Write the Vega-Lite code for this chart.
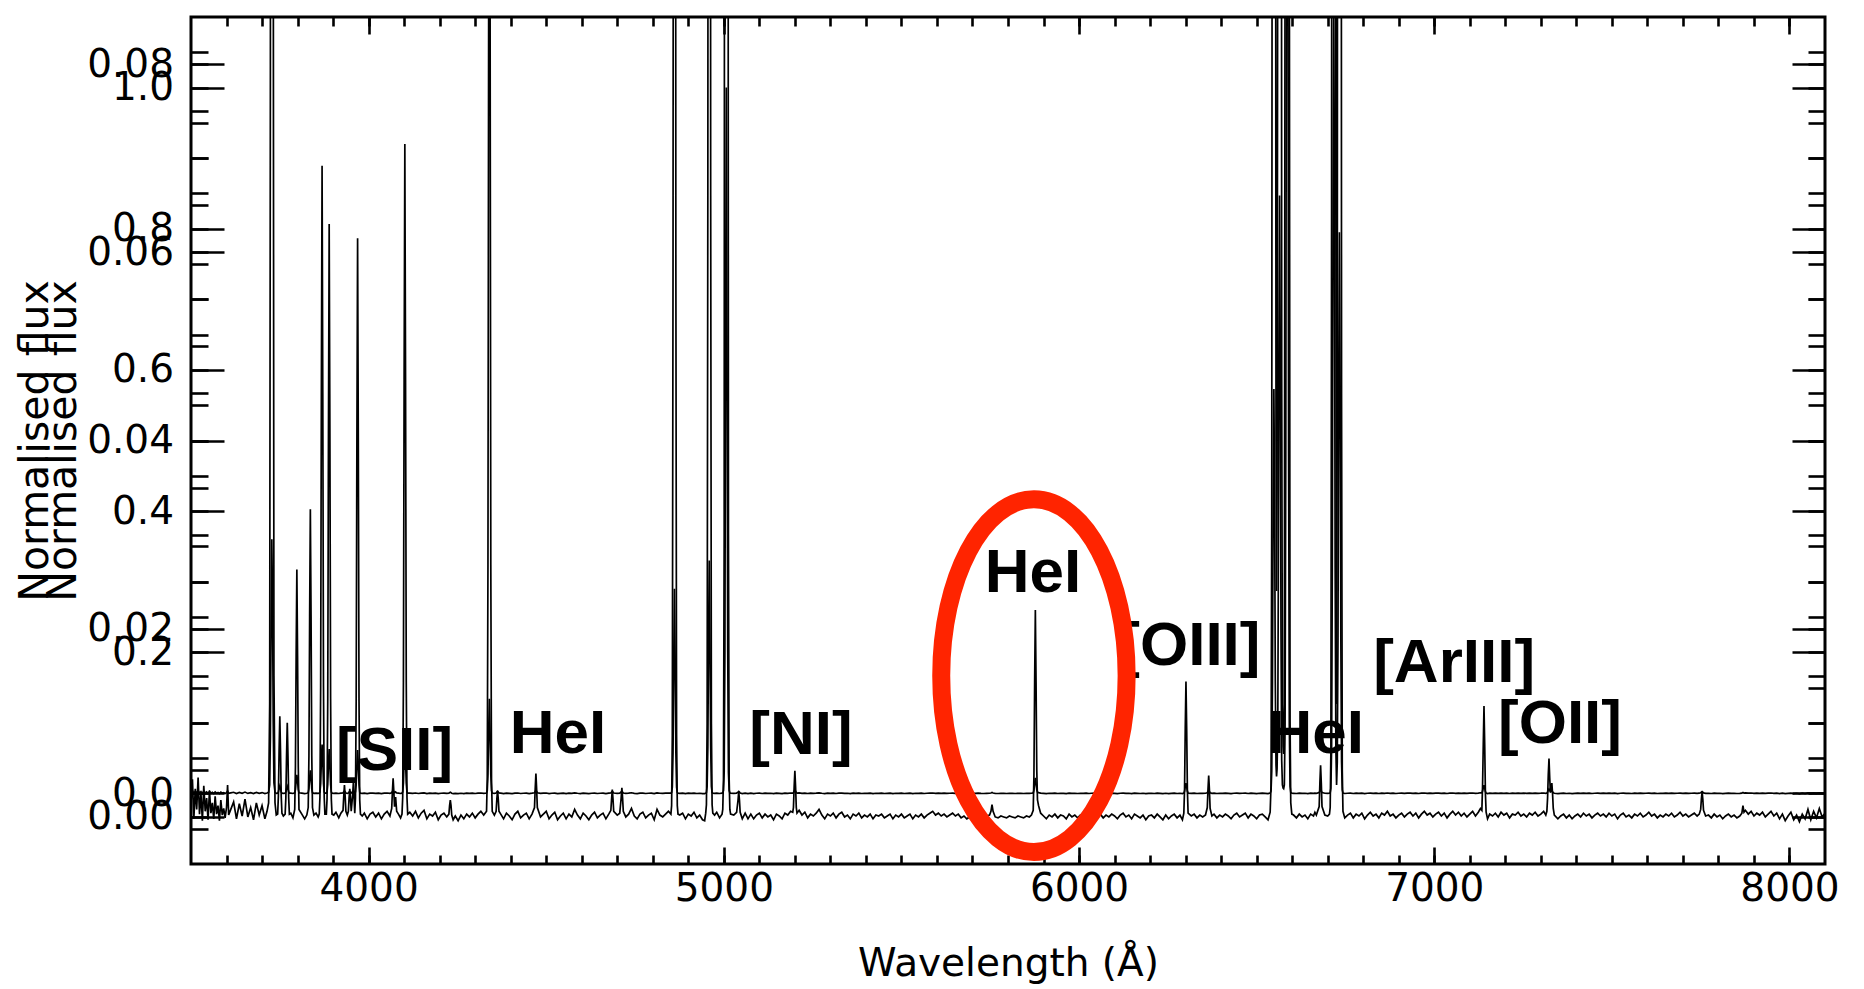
{
"$schema":"https://vega.github.io/schema/vega-lite/v6.json",
"width":1634,"height":847,
"autosize":{"type":"none"},
"padding":{"left":191,"top":17,"right":39,"bottom":125},
"background":"white",
"config":{
 "view":{"stroke":"black","strokeWidth":3},
 "axis":{"labelFont":"DejaVu Sans","labelFontSize":39,"titleFont":"DejaVu Sans","titleFontSize":39,"titleFontWeight":"normal","labelColor":"#000","titleColor":"#000","tickColor":"#000","tickWidth":2.6,"domain":false,"grid":false,"labelOverlap":false,"labelFlush":false}
},
"datasets":{
"spec":[
{"w":3500,"f":0.0015},{"w":3504,"f":0.0040},{"w":3508,"f":-0.0002},{"w":3512,"f":0.0030},{"w":3516,"f":0.0008},{"w":3520,"f":0.0042},{"w":3524,"f":0.0003},{"w":3528,"f":0.0025},{"w":3532,"f":-0.0004},{"w":3536,"f":0.0033},{"w":3540,"f":0.0006},{"w":3544,"f":0.0020},{"w":3548,"f":-0.0003},{"w":3552,"f":0.0028},{"w":3556,"f":0.0004},{"w":3560,"f":0.0015},{"w":3564,"f":-0.0002},{"w":3568,"f":0.0022},{"w":3572,"f":0.0003},{"w":3576,"f":0.0012},{"w":3580,"f":-0.0004},{"w":3584,"f":0.0018},{"w":3588,"f":0.0002},{"w":3592,"f":0.0009},{"w":3596,"f":-0.0001},{"w":3600,"f":0.0010},{"w":3603,"f":0.0034},{"w":3606,"f":0.0002},
{"w":3612,"f":0.0008},{"w":3620,"f":0.0016},{"w":3628,"f":-0.0002},{"w":3636,"f":0.0014},{"w":3644,"f":0.0001},{"w":3652,"f":0.0019},{"w":3660,"f":0.0000},{"w":3668,"f":0.0010},{"w":3676,"f":-0.0003},{"w":3684,"f":0.0015},{"w":3692,"f":0.0002},{"w":3700,"f":0.0012},{"w":3708,"f":-0.0002},{"w":3714,"f":0.0006},
{"w":3718.5,"f":0.0015},{"w":3721.5,"f":0.012},{"w":3723.5,"f":0.08},{"w":3725.5,"f":0.24},{"w":3727.5,"f":0.36},{"w":3729.5,"f":0.27},{"w":3731.5,"f":0.10},{"w":3733.5,"f":0.015},{"w":3736.5,"f":0.0015},{"w":3740,"f":0.0002},
{"w":3744,"f":0.0003},{"w":3746,"f":0.0022},{"w":3748,"f":0.0070},{"w":3750,"f":0.0107},{"w":3752,"f":0.0070},{"w":3754,"f":0.0022},{"w":3756,"f":0.0004},{"w":3760,"f":0.0001},
{"w":3765,"f":0.0003},{"w":3767,"f":0.0020},{"w":3769,"f":0.0065},{"w":3771,"f":0.0100},{"w":3773,"f":0.0065},{"w":3775,"f":0.0020},{"w":3777,"f":0.0003},{"w":3781,"f":0.0004},{"w":3787,"f":-0.0001},
{"w":3792,"f":0.0008},{"w":3794,"f":0.0053},{"w":3796,"f":0.0171},{"w":3798,"f":0.0263},{"w":3800,"f":0.0171},{"w":3802,"f":0.0053},{"w":3804,"f":0.0008},{"w":3812,"f":0.0003},{"w":3820,"f":-0.0002},
{"w":3826,"f":0.0002},{"w":3830,"f":0.0010},{"w":3832,"f":0.0065},{"w":3834,"f":0.0213},{"w":3836,"f":0.0327},{"w":3838,"f":0.0213},{"w":3840,"f":0.0065},{"w":3842,"f":0.0010},{"w":3846,"f":0.0002},{"w":3852,"f":0.0004},{"w":3858,"f":0.0000},
{"w":3861,"f":0.0003},{"w":3863,"f":0.0021},{"w":3865,"f":0.0138},{"w":3867,"f":0.0450},{"w":3869,"f":0.0692},{"w":3871,"f":0.0450},{"w":3873,"f":0.0138},{"w":3875,"f":0.0021},{"w":3877,"f":0.0003},
{"w":3881,"f":0.0003},{"w":3883,"f":0.0019},{"w":3885,"f":0.0126},{"w":3887,"f":0.0410},{"w":3889,"f":0.0630},{"w":3891,"f":0.0410},{"w":3893,"f":0.0126},{"w":3895,"f":0.0019},{"w":3897,"f":0.0003},
{"w":3902,"f":0.0002},{"w":3908,"f":0.0005},{"w":3916,"f":-0.0001},{"w":3922,"f":0.0004},{"w":3928,"f":0.0007},{"w":3930,"f":0.0022},{"w":3932,"f":0.0034},{"w":3934,"f":0.0022},{"w":3936,"f":0.0006},{"w":3940,"f":0.0002},{"w":3943,"f":0.0006},{"w":3945,"f":0.0020},{"w":3947,"f":0.0030},{"w":3949,"f":0.0020},{"w":3951,"f":0.0006},{"w":3955,"f":0.0023},{"w":3957,"f":0.0036},{"w":3959,"f":0.0021},{"w":3961,"f":0.0004},
{"w":3963,"f":0.0020},{"w":3965,"f":0.0123},{"w":3967,"f":0.0400},{"w":3969,"f":0.0615},{"w":3971,"f":0.0400},{"w":3973,"f":0.0123},{"w":3975,"f":0.0018},{"w":3977,"f":0.0003},
{"w":3982,"f":0.0001},{"w":3988,"f":0.0004},{"w":3996,"f":-0.0002},{"w":4004,"f":0.0003},{"w":4012,"f":0.0005},{"w":4020,"f":0.0000},{"w":4028,"f":0.0004},{"w":4036,"f":-0.0002},{"w":4044,"f":0.0003},{"w":4052,"f":0.0006},{"w":4060,"f":0.0001},
{"w":4065,"f":0.0009},{"w":4067,"f":0.0027},{"w":4069,"f":0.0041},{"w":4071,"f":0.0027},{"w":4073,"f":0.0011},{"w":4076,"f":0.0021},{"w":4079,"f":0.0006},{"w":4084,"f":0.0003},{"w":4090,"f":-0.0001},
{"w":4094,"f":0.0003},{"w":4096,"f":0.0021},{"w":4098,"f":0.0143},{"w":4100,"f":0.0465},{"w":4102,"f":0.0715},{"w":4104,"f":0.0465},{"w":4106,"f":0.0143},{"w":4108,"f":0.0021},{"w":4110,"f":0.0003},
{"w":4116,"f":0.0005},{"w":4124,"f":0.0001},{"w":4132,"f":0.0006},{"w":4140,"f":-0.0001},{"w":4148,"f":0.0004},{"w":4156,"f":0.0007},{"w":4164,"f":-0.0002},{"w":4172,"f":0.0003},{"w":4180,"f":0.0001},{"w":4188,"f":0.0005},{"w":4196,"f":-0.0003},{"w":4204,"f":0.0002},{"w":4212,"f":0.0004},{"w":4220,"f":0.0000},
{"w":4226,"f":0.0003},{"w":4228,"f":0.0012},{"w":4230,"f":0.0018},{"w":4232,"f":0.0012},{"w":4234,"f":0.0002},{"w":4238,"f":-0.0003},{"w":4244,"f":0.0001},{"w":4252,"f":-0.0004},{"w":4260,"f":0.0002},{"w":4268,"f":-0.0002},{"w":4276,"f":0.0003},{"w":4284,"f":0.0000},{"w":4292,"f":0.0004},{"w":4300,"f":-0.0001},{"w":4308,"f":0.0003},{"w":4316,"f":0.0006},{"w":4324,"f":0.0002},
{"w":4332,"f":0.0006},{"w":4334,"f":0.0040},{"w":4336,"f":0.0268},{"w":4338,"f":0.0871},{"w":4340,"f":0.1340},{"w":4342,"f":0.0871},{"w":4344,"f":0.0268},{"w":4346,"f":0.0040},{"w":4348,"f":0.0006},{"w":4354,"f":0.0002},
{"w":4359,"f":0.0006},{"w":4361,"f":0.0019},{"w":4363,"f":0.0028},{"w":4365,"f":0.0019},{"w":4367,"f":0.0006},{"w":4372,"f":0.0003},{"w":4380,"f":-0.0002},{"w":4388,"f":0.0004},{"w":4396,"f":0.0001},{"w":4404,"f":-0.0003},{"w":4412,"f":0.0003},{"w":4420,"f":0.0006},{"w":4428,"f":-0.0001},{"w":4436,"f":0.0002},{"w":4444,"f":0.0004},{"w":4452,"f":-0.0002},{"w":4460,"f":0.0003},
{"w":4467,"f":0.0010},{"w":4469,"f":0.0030},{"w":4471,"f":0.0046},{"w":4473,"f":0.0030},{"w":4475,"f":0.0010},{"w":4484,"f":0.0000},{"w":4492,"f":0.0003},{"w":4500,"f":0.0006},{"w":4508,"f":-0.0002},{"w":4516,"f":0.0002},{"w":4524,"f":0.0005},{"w":4532,"f":-0.0003},{"w":4540,"f":0.0001},{"w":4548,"f":0.0004},{"w":4556,"f":-0.0002},{"w":4564,"f":0.0003},{"w":4572,"f":0.0000},{"w":4580,"f":0.0008},{"w":4588,"f":0.0002},{"w":4596,"f":-0.0002},{"w":4604,"f":0.0004},{"w":4612,"f":0.0001},{"w":4620,"f":-0.0003},{"w":4628,"f":0.0002},{"w":4636,"f":0.0005},{"w":4644,"f":-0.0001},{"w":4652,"f":0.0002},{"w":4660,"f":0.0004},{"w":4668,"f":-0.0002},{"w":4676,"f":0.0003},
{"w":4682,"f":0.0007},{"w":4684,"f":0.0019},{"w":4686,"f":0.0029},{"w":4688,"f":0.0019},{"w":4690,"f":0.0006},{"w":4700,"f":0.0002},{"w":4707,"f":0.0004},{"w":4711,"f":0.0020},{"w":4713,"f":0.0031},{"w":4715,"f":0.0020},{"w":4717,"f":0.0006},
{"w":4724,"f":0.0000},{"w":4732,"f":0.0003},{"w":4740,"f":0.0009},{"w":4748,"f":0.0001},{"w":4756,"f":-0.0002},{"w":4764,"f":0.0003},{"w":4772,"f":0.0005},{"w":4780,"f":-0.0001},{"w":4788,"f":0.0002},{"w":4796,"f":0.0004},{"w":4804,"f":-0.0003},{"w":4812,"f":0.0008},{"w":4820,"f":0.0002},{"w":4828,"f":0.0000},{"w":4836,"f":0.0003},{"w":4844,"f":0.0006},
{"w":4851,"f":0.0003},{"w":4853,"f":0.0012},{"w":4855,"f":0.0087},{"w":4857,"f":0.058},{"w":4859,"f":0.1885},{"w":4861,"f":0.29},{"w":4863,"f":0.1885},{"w":4865,"f":0.058},{"w":4867,"f":0.0087},{"w":4869,"f":0.0012},{"w":4871,"f":0.0003},
{"w":4876,"f":0.0002},{"w":4884,"f":0.0004},{"w":4892,"f":-0.0002},{"w":4900,"f":0.0003},{"w":4908,"f":0.0001},{"w":4916,"f":0.0005},{"w":4924,"f":-0.0001},{"w":4932,"f":0.0002},{"w":4940,"f":-0.0003},{"w":4946,"f":-0.0004},
{"w":4949,"f":0.0004},{"w":4951,"f":0.0013},{"w":4953,"f":0.0099},{"w":4955,"f":0.066},{"w":4957,"f":0.2145},{"w":4959,"f":0.33},{"w":4961,"f":0.2145},{"w":4963,"f":0.066},{"w":4965,"f":0.0099},{"w":4967,"f":0.0013},{"w":4969,"f":0.0004},
{"w":4974,"f":0.0002},{"w":4980,"f":0.0005},{"w":4988,"f":-0.0001},
{"w":4995,"f":0.0003},{"w":4997,"f":0.0008},{"w":4999,"f":0.004},{"w":5001,"f":0.03},{"w":5003,"f":0.2},{"w":5005,"f":0.65},{"w":5007,"f":1.0},{"w":5009,"f":0.65},{"w":5011,"f":0.2},{"w":5013,"f":0.03},{"w":5015,"f":0.004},{"w":5017,"f":0.0008},{"w":5019,"f":0.0003},
{"w":5028,"f":0.0002},{"w":5036,"f":0.0005},{"w":5040,"f":0.0018},{"w":5042,"f":0.0027},{"w":5044,"f":0.0018},{"w":5046,"f":0.0005},{"w":5052,"f":-0.0002},{"w":5060,"f":0.0004},{"w":5068,"f":-0.0002},{"w":5076,"f":0.0003},{"w":5084,"f":-0.0002},{"w":5092,"f":0.0002},{"w":5100,"f":0.0004},{"w":5108,"f":-0.0001},{"w":5116,"f":0.0003},{"w":5124,"f":0.0000},{"w":5132,"f":0.0002},{"w":5140,"f":-0.0003},{"w":5148,"f":0.0003},{"w":5156,"f":0.0001},{"w":5164,"f":-0.0002},{"w":5172,"f":0.0004},{"w":5180,"f":0.0002},{"w":5188,"f":0.0006},
{"w":5194,"f":0.0005},{"w":5196,"f":0.0010},{"w":5198,"f":0.0032},{"w":5200,"f":0.0049},{"w":5202,"f":0.0032},{"w":5204,"f":0.0010},{"w":5206,"f":0.0004},
{"w":5212,"f":0.0007},{"w":5220,"f":0.0002},{"w":5228,"f":0.0005},{"w":5236,"f":-0.0001},{"w":5244,"f":0.0003},{"w":5252,"f":0.0001},{"w":5260,"f":0.0004},{"w":5268,"f":0.0008},{"w":5276,"f":0.0002},{"w":5284,"f":-0.0002},{"w":5292,"f":0.0003},{"w":5300,"f":0.0001},{"w":5308,"f":0.0004},{"w":5316,"f":-0.0001},{"w":5324,"f":0.0003},{"w":5332,"f":0.0005},{"w":5340,"f":0.0000},{"w":5348,"f":0.0002},{"w":5356,"f":-0.0002},{"w":5364,"f":0.0003},{"w":5372,"f":0.0001},{"w":5380,"f":0.0004},{"w":5388,"f":-0.0001},{"w":5396,"f":0.0002},{"w":5404,"f":0.0000},{"w":5412,"f":0.0003},{"w":5420,"f":-0.0002},{"w":5428,"f":0.0002},{"w":5436,"f":0.0001},{"w":5444,"f":0.0003},{"w":5452,"f":-0.0001},{"w":5460,"f":0.0001},{"w":5468,"f":0.0003},{"w":5476,"f":-0.0002},{"w":5484,"f":0.0002},{"w":5492,"f":0.0000},{"w":5500,"f":0.0003},{"w":5508,"f":-0.0001},{"w":5516,"f":0.0001},{"w":5524,"f":0.0003},{"w":5532,"f":-0.0002},{"w":5540,"f":0.0002},{"w":5548,"f":0.0000},{"w":5556,"f":0.0003},{"w":5564,"f":-0.0001},{"w":5572,"f":0.0002},{"w":5580,"f":0.0004},{"w":5588,"f":0.0006},{"w":5596,"f":0.0002},{"w":5604,"f":0.0004},{"w":5612,"f":0.0001},{"w":5620,"f":0.0003},{"w":5628,"f":0.0000},{"w":5636,"f":0.0002},{"w":5644,"f":0.0004},{"w":5652,"f":0.0001},{"w":5660,"f":0.0003},{"w":5668,"f":-0.0001},{"w":5676,"f":0.0001},{"w":5684,"f":-0.0002},{"w":5692,"f":0.0000},{"w":5700,"f":0.0002},{"w":5708,"f":0.0001},{"w":5716,"f":0.0003},{"w":5724,"f":0.0000},{"w":5732,"f":-0.0001},{"w":5740,"f":0.0001},{"w":5748,"f":0.0002},
{"w":5752,"f":0.0006},{"w":5755,"f":0.0013},{"w":5758,"f":0.0006},{"w":5764,"f":0.0000},{"w":5772,"f":-0.0001},{"w":5780,"f":0.0001},{"w":5788,"f":0.0000},{"w":5796,"f":-0.0001},{"w":5804,"f":0.0001},{"w":5812,"f":0.0000},{"w":5820,"f":-0.0001},{"w":5828,"f":0.0001},{"w":5836,"f":0.0000},{"w":5844,"f":-0.0001},{"w":5852,"f":0.0001},{"w":5860,"f":0.0000},{"w":5866,"f":0.0002},
{"w":5871,"f":0.0007},{"w":5873,"f":0.0044},{"w":5875,"f":0.0143},{"w":5877,"f":0.0220},{"w":5879,"f":0.0143},{"w":5881,"f":0.0050},{"w":5883,"f":0.0018},{"w":5886,"f":0.0012},{"w":5889,"f":0.0008},{"w":5892,"f":0.0004},
{"w":5900,"f":0.0001},{"w":5908,"f":-0.0002},{"w":5916,"f":0.0002},{"w":5924,"f":0.0000},{"w":5932,"f":0.0003},{"w":5940,"f":-0.0001},{"w":5948,"f":0.0002},{"w":5956,"f":0.0001},{"w":5964,"f":-0.0002},{"w":5972,"f":0.0003},{"w":5980,"f":0.0000},{"w":5988,"f":0.0002},{"w":5996,"f":-0.0001},{"w":6004,"f":0.0002},{"w":6012,"f":0.0001},{"w":6020,"f":0.0003},{"w":6028,"f":-0.0001},{"w":6036,"f":0.0002},{"w":6044,"f":0.0004},{"w":6052,"f":0.0001},{"w":6060,"f":0.0003},{"w":6068,"f":-0.0001},{"w":6076,"f":0.0002},{"w":6084,"f":0.0000},{"w":6092,"f":0.0003},{"w":6100,"f":0.0001},{"w":6108,"f":-0.0002},{"w":6116,"f":0.0002},{"w":6124,"f":0.0004},{"w":6132,"f":0.0000},{"w":6140,"f":0.0002},{"w":6148,"f":-0.0002},{"w":6156,"f":0.0003},{"w":6164,"f":0.0001},{"w":6172,"f":-0.0001},{"w":6180,"f":0.0002},{"w":6188,"f":-0.0003},{"w":6196,"f":0.0001},{"w":6204,"f":0.0002},{"w":6212,"f":-0.0001},{"w":6220,"f":0.0003},{"w":6228,"f":0.0000},{"w":6236,"f":-0.0003},{"w":6244,"f":0.0002},{"w":6252,"f":-0.0002},{"w":6260,"f":0.0001},{"w":6268,"f":0.0003},{"w":6276,"f":-0.0001},{"w":6284,"f":0.0002},{"w":6291,"f":-0.0003},
{"w":6295,"f":0.0004},{"w":6297,"f":0.0029},{"w":6299,"f":0.0094},{"w":6301,"f":0.0144},{"w":6303,"f":0.0094},{"w":6305,"f":0.0029},{"w":6307,"f":0.0004},
{"w":6316,"f":0.0001},{"w":6324,"f":0.0003},{"w":6332,"f":-0.0001},{"w":6340,"f":0.0002},{"w":6348,"f":0.0000},{"w":6356,"f":0.0002},
{"w":6361,"f":0.0010},{"w":6363,"f":0.0029},{"w":6365,"f":0.0044},{"w":6367,"f":0.0029},{"w":6369,"f":0.0009},
{"w":6374,"f":0.0001},{"w":6380,"f":0.0003},{"w":6388,"f":-0.0001},{"w":6396,"f":0.0002},{"w":6404,"f":0.0000},{"w":6412,"f":0.0003},{"w":6420,"f":0.0001},{"w":6428,"f":-0.0002},{"w":6436,"f":0.0002},{"w":6444,"f":0.0004},{"w":6452,"f":0.0000},{"w":6460,"f":0.0002},{"w":6468,"f":0.0004},{"w":6476,"f":-0.0001},{"w":6484,"f":0.0003},{"w":6492,"f":0.0001},{"w":6500,"f":-0.0002},{"w":6508,"f":0.0002},{"w":6516,"f":0.0003},{"w":6524,"f":0.0000},{"w":6532,"f":-0.0003},
{"w":6538,"f":0.0005},{"w":6540.5,"f":0.0034},{"w":6542.5,"f":0.032},{"w":6544.5,"f":0.159},{"w":6546.5,"f":0.416},{"w":6548.5,"f":0.573},{"w":6550.5,"f":0.416},{"w":6552.5,"f":0.159},{"w":6554.5,"f":0.04},{"w":6556,"f":0.024},{"w":6557.5,"f":0.035},{"w":6559.5,"f":0.10},{"w":6561,"f":0.30},{"w":6562.5,"f":0.615},{"w":6564.5,"f":0.847},{"w":6566.5,"f":0.615},{"w":6568.5,"f":0.235},{"w":6570.5,"f":0.047},{"w":6572.5,"f":0.012},{"w":6574.5,"f":0.0075},{"w":6576,"f":0.0067},{"w":6578,"f":0.012},{"w":6580,"f":0.096},{"w":6582,"f":0.478},{"w":6584,"f":1.249},{"w":6586,"f":1.72},{"w":6588,"f":1.249},{"w":6590,"f":0.478},{"w":6592,"f":0.096},{"w":6594,"f":0.0103},{"w":6596,"f":0.0015},{"w":6599,"f":0.0003},
{"w":6604,"f":0.0002},{"w":6612,"f":-0.0001},{"w":6620,"f":0.0003},{"w":6628,"f":0.0000},{"w":6636,"f":0.0002},{"w":6644,"f":-0.0002},{"w":6652,"f":0.0003},{"w":6660,"f":0.0001},{"w":6664,"f":0.0005},{"w":6668,"f":0.0002},
{"w":6676,"f":0.0011},{"w":6678,"f":0.0036},{"w":6680,"f":0.0055},{"w":6682,"f":0.0036},{"w":6684,"f":0.0011},{"w":6692,"f":0.0002},{"w":6700,"f":0.0001},
{"w":6705,"f":0.0003},{"w":6707,"f":0.001},{"w":6709,"f":0.007},{"w":6711,"f":0.064},{"w":6713,"f":0.32},{"w":6715,"f":0.835},{"w":6717,"f":1.15},{"w":6719,"f":0.835},{"w":6721,"f":0.32},{"w":6723,"f":0.064},{"w":6725,"f":0.012},{"w":6727,"f":0.045},{"w":6729,"f":0.221},{"w":6731,"f":0.577},{"w":6733,"f":0.795},{"w":6735,"f":0.577},{"w":6737,"f":0.221},{"w":6739,"f":0.045},{"w":6741,"f":0.005},{"w":6743,"f":0.0006},
{"w":6748,"f":-0.0001},{"w":6756,"f":0.0002},{"w":6764,"f":0.0004},{"w":6772,"f":-0.0001},{"w":6780,"f":0.0003},{"w":6788,"f":0.0001},{"w":6796,"f":0.0004},{"w":6804,"f":-0.0002},{"w":6812,"f":0.0002},{"w":6820,"f":0.0005},{"w":6828,"f":0.0001},{"w":6836,"f":0.0003},{"w":6844,"f":-0.0001},{"w":6852,"f":0.0004},{"w":6860,"f":0.0002},{"w":6868,"f":0.0006},{"w":6876,"f":0.0001},{"w":6884,"f":0.0003},{"w":6892,"f":-0.0001},{"w":6900,"f":0.0002},{"w":6908,"f":0.0004},{"w":6916,"f":0.0000},{"w":6924,"f":0.0003},{"w":6932,"f":0.0005},{"w":6940,"f":0.0001},{"w":6948,"f":0.0004},{"w":6956,"f":-0.0001},{"w":6964,"f":0.0003},{"w":6972,"f":0.0006},{"w":6980,"f":0.0002},{"w":6988,"f":0.0004},{"w":6996,"f":0.0000},{"w":7004,"f":0.0003},{"w":7012,"f":0.0005},{"w":7020,"f":0.0001},{"w":7028,"f":0.0004},{"w":7036,"f":-0.0001},{"w":7044,"f":0.0003},{"w":7052,"f":0.0006},{"w":7060,"f":0.0002},{"w":7068,"f":0.0005},{"w":7076,"f":0.0001},{"w":7084,"f":0.0004},{"w":7092,"f":0.0000},{"w":7100,"f":0.0003},{"w":7108,"f":0.0006},{"w":7116,"f":0.0001},{"w":7124,"f":0.0005},{"w":7130,"f":0.0009},
{"w":7134,"f":0.0007},{"w":7136,"f":0.0033},{"w":7138,"f":0.0077},{"w":7140,"f":0.0118},{"w":7142,"f":0.0077},{"w":7144,"f":0.0025},{"w":7146,"f":0.0005},
{"w":7150,"f":-0.0002},{"w":7156,"f":0.0003},{"w":7164,"f":0.0001},{"w":7172,"f":0.0004},{"w":7180,"f":0.0000},{"w":7188,"f":0.0005},{"w":7196,"f":0.0002},{"w":7204,"f":0.0004},{"w":7212,"f":-0.0001},{"w":7220,"f":0.0003},{"w":7228,"f":0.0002},{"w":7236,"f":0.0005},{"w":7244,"f":0.0001},{"w":7252,"f":0.0003},{"w":7260,"f":0.0000},{"w":7268,"f":0.0004},{"w":7276,"f":0.0002},{"w":7284,"f":0.0005},{"w":7292,"f":0.0001},{"w":7300,"f":0.0003},{"w":7308,"f":0.0006},{"w":7314,"f":0.0002},
{"w":7317,"f":0.0006},{"w":7319,"f":0.0020},{"w":7321,"f":0.0045},{"w":7323,"f":0.0062},{"w":7325,"f":0.0042},{"w":7327,"f":0.0026},{"w":7329,"f":0.0030},{"w":7331,"f":0.0036},{"w":7333,"f":0.0025},{"w":7335,"f":0.0009},{"w":7338,"f":0.0002},
{"w":7348,"f":-0.0002},{"w":7356,"f":0.0001},{"w":7364,"f":0.0003},{"w":7372,"f":-0.0001},{"w":7380,"f":0.0002},{"w":7388,"f":-0.0002},{"w":7396,"f":0.0001},{"w":7404,"f":0.0003},{"w":7412,"f":0.0000},{"w":7420,"f":0.0004},{"w":7428,"f":0.0001},{"w":7436,"f":0.0003},{"w":7444,"f":-0.0001},{"w":7452,"f":0.0002},{"w":7460,"f":0.0004},{"w":7468,"f":0.0001},{"w":7476,"f":0.0003},{"w":7484,"f":0.0000},{"w":7492,"f":0.0004},{"w":7500,"f":0.0001},{"w":7508,"f":0.0003},{"w":7516,"f":-0.0002},{"w":7524,"f":0.0002},{"w":7532,"f":0.0004},{"w":7540,"f":0.0000},{"w":7548,"f":0.0002},{"w":7556,"f":-0.0001},{"w":7564,"f":0.0003},{"w":7572,"f":0.0001},{"w":7580,"f":0.0004},{"w":7588,"f":0.0000},{"w":7596,"f":0.0002},{"w":7604,"f":0.0005},{"w":7612,"f":0.0001},{"w":7620,"f":0.0003},{"w":7628,"f":-0.0001},{"w":7636,"f":0.0002},{"w":7644,"f":0.0000},{"w":7652,"f":0.0003},{"w":7660,"f":0.0001},{"w":7668,"f":0.0004},{"w":7676,"f":0.0000},{"w":7684,"f":0.0002},{"w":7692,"f":0.0005},{"w":7700,"f":0.0001},{"w":7708,"f":0.0003},{"w":7716,"f":0.0000},{"w":7724,"f":0.0002},{"w":7732,"f":0.0004},{"w":7740,"f":0.0001},{"w":7746,"f":0.0003},
{"w":7750,"f":0.0008},{"w":7752,"f":0.0019},{"w":7754,"f":0.0027},{"w":7756,"f":0.0019},{"w":7758,"f":0.0007},
{"w":7764,"f":0.0001},{"w":7772,"f":0.0002},{"w":7780,"f":-0.0001},{"w":7788,"f":0.0003},{"w":7796,"f":0.0000},{"w":7804,"f":0.0002},{"w":7812,"f":-0.0002},{"w":7820,"f":0.0001},{"w":7828,"f":0.0003},{"w":7836,"f":0.0000},{"w":7844,"f":0.0002},{"w":7852,"f":-0.0001},{"w":7860,"f":0.0001},{"w":7866,"f":0.0004},{"w":7869,"f":0.0012},{"w":7872,"f":0.0005},{"w":7876,"f":0.0007},{"w":7884,"f":0.0003},{"w":7892,"f":0.0006},{"w":7900,"f":0.0001},{"w":7908,"f":0.0004},{"w":7916,"f":0.0002},{"w":7924,"f":0.0005},{"w":7932,"f":0.0000},{"w":7940,"f":0.0003},{"w":7948,"f":0.0006},{"w":7956,"f":0.0001},{"w":7964,"f":0.0004},{"w":7972,"f":-0.0002},{"w":7980,"f":0.0003},{"w":7988,"f":-0.0004},{"w":7996,"f":0.0001},{"w":8004,"f":0.0005},{"w":8012,"f":-0.0003},{"w":8020,"f":0.0002},{"w":8028,"f":-0.0005},{"w":8036,"f":0.0003},{"w":8044,"f":-0.0002},{"w":8052,"f":0.0008},{"w":8060,"f":-0.0003},{"w":8068,"f":0.0006},{"w":8076,"f":-0.0001},{"w":8084,"f":0.0009},{"w":8092,"f":0.0000},{"w":8100,"f":0.0004}
],
"labels":[
{"t":"[SII]","w":4073,"y":0.0326},{"t":"HeI","w":4533,"y":0.0567},{"t":"[NI]","w":5217,"y":0.0563},{"t":"HeI","w":5870,"y":0.2855},{"t":"[OIII]","w":6312,"y":0.1816},{"t":"HeI","w":6666,"y":0.0572},{"t":"[ArIII]","w":7056,"y":0.1579},{"t":"[OII]","w":7354,"y":0.0709}
],
"ring":[{"w":5873,"y":0.1668}]
},
"layer":[
 {
  "data":{"name":"spec"},
  "layer":[
   {"mark":{"type":"line","stroke":"black","strokeWidth":1.7,"clip":true},
    "encoding":{
     "x":{"field":"w","type":"quantitative","scale":{"domain":[3500,8100],"nice":false,"zero":false},
          "axis":{"orient":"bottom","values":[4000,5000,6000,7000,8000],"format":"d","tickSize":-17,"labelPadding":22,"title":"Wavelength (Å)","titlePadding":36}},
     "y":{"field":"f","type":"quantitative","scale":{"domain":[-0.1,1.1],"nice":false,"zero":false},
          "axis":{"orient":"left","values":[0,0.2,0.4,0.6,0.8,1],"format":".1f","tickSize":-33,"labelPadding":50.5,"title":"Normalised flux","titleFontSize":41,"titlePadding":27}},
     "order":{"field":"w","type":"quantitative"}}},
   {"mark":{"type":"line","opacity":0,"clip":true},
    "encoding":{
     "x":{"field":"w","type":"quantitative","scale":{"domain":[3500,8100],"nice":false,"zero":false},
          "axis":{"orient":"bottom","values":[3600,3700,3800,3900,4000,4100,4200,4300,4400,4500,4600,4700,4800,4900,5000,5100,5200,5300,5400,5500,5600,5700,5800,5900,6000,6100,6200,6300,6400,6500,6600,6700,6800,6900,7000,7100,7200,7300,7400,7500,7600,7700,7800,7900,8000],"tickSize":-9,"labels":false,"title":null}},
     "y":{"field":"f","type":"quantitative","scale":{"domain":[-0.1,1.1],"nice":false,"zero":false},
          "axis":{"orient":"left","values":[-0.05,0,0.05,0.1,0.15,0.2,0.25,0.3,0.35,0.4,0.45,0.5,0.55,0.6,0.65,0.7,0.75,0.8,0.85,0.9,0.95,1,1.05],"tickSize":-17,"labels":false,"title":null}}}},
   {"mark":{"type":"line","opacity":0,"clip":true},
    "encoding":{
     "x":{"field":"w","type":"quantitative","scale":{"domain":[3500,8100],"nice":false,"zero":false},
          "axis":{"orient":"top","values":[4000,5000,6000,7000,8000],"tickSize":-17,"labels":false,"title":null}},
     "y":{"field":"f","type":"quantitative","scale":{"domain":[-0.1,1.1],"nice":false,"zero":false},
          "axis":{"orient":"right","values":[0,0.2,0.4,0.6,0.8,1],"tickSize":-33,"labels":false,"title":null}}}},
   {"mark":{"type":"line","opacity":0,"clip":true},
    "encoding":{
     "x":{"field":"w","type":"quantitative","scale":{"domain":[3500,8100],"nice":false,"zero":false},
          "axis":{"orient":"top","values":[3600,3700,3800,3900,4000,4100,4200,4300,4400,4500,4600,4700,4800,4900,5000,5100,5200,5300,5400,5500,5600,5700,5800,5900,6000,6100,6200,6300,6400,6500,6600,6700,6800,6900,7000,7100,7200,7300,7400,7500,7600,7700,7800,7900,8000],"tickSize":-9,"labels":false,"title":null}},
     "y":{"field":"f","type":"quantitative","scale":{"domain":[-0.1,1.1],"nice":false,"zero":false},
          "axis":{"orient":"right","values":[-0.05,0,0.05,0.1,0.15,0.2,0.25,0.3,0.35,0.4,0.45,0.5,0.55,0.6,0.65,0.7,0.75,0.8,0.85,0.9,0.95,1,1.05],"tickSize":-17,"labels":false,"title":null}}}}
  ],
  "resolve":{"axis":{"x":"independent","y":"independent"}}
 },
 {
  "data":{"name":"spec"},
  "layer":[
   {"mark":{"type":"line","stroke":"black","strokeWidth":1.7,"clip":true},
    "encoding":{
     "x":{"field":"w","type":"quantitative","scale":{"domain":[3500,8100],"nice":false,"zero":false},"axis":null},
     "y":{"field":"f","type":"quantitative","scale":{"domain":[-0.005,0.085],"nice":false,"zero":false},
          "axis":{"orient":"left","values":[0,0.02,0.04,0.06,0.08],"format":".2f","tickSize":-33,"labelPadding":50.5,"title":"Normalised flux","titleFontSize":41,"titlePadding":30}},
     "order":{"field":"w","type":"quantitative"}}},
   {"mark":{"type":"line","opacity":0,"clip":true},
    "encoding":{
     "x":{"field":"w","type":"quantitative","scale":{"domain":[3500,8100],"nice":false,"zero":false},"axis":null},
     "y":{"field":"f","type":"quantitative","scale":{"domain":[-0.005,0.085],"nice":false,"zero":false},
          "axis":{"orient":"left","values":[0,0.005,0.01,0.015,0.02,0.025,0.03,0.035,0.04,0.045,0.05,0.055,0.06,0.065,0.07,0.075,0.08],"tickSize":-17,"labels":false,"title":null}}}},
   {"mark":{"type":"line","opacity":0,"clip":true},
    "encoding":{
     "x":{"field":"w","type":"quantitative","scale":{"domain":[3500,8100],"nice":false,"zero":false},"axis":null},
     "y":{"field":"f","type":"quantitative","scale":{"domain":[-0.005,0.085],"nice":false,"zero":false},
          "axis":{"orient":"right","values":[0,0.02,0.04,0.06,0.08],"tickSize":-33,"labels":false,"title":null}}}},
   {"mark":{"type":"line","opacity":0,"clip":true},
    "encoding":{
     "x":{"field":"w","type":"quantitative","scale":{"domain":[3500,8100],"nice":false,"zero":false},"axis":null},
     "y":{"field":"f","type":"quantitative","scale":{"domain":[-0.005,0.085],"nice":false,"zero":false},
          "axis":{"orient":"right","values":[0,0.005,0.01,0.015,0.02,0.025,0.03,0.035,0.04,0.045,0.05,0.055,0.06,0.065,0.07,0.075,0.08],"tickSize":-17,"labels":false,"title":null}}}}
  ],
  "resolve":{"axis":{"y":"independent"}}
 },
 {
  "data":{"name":"labels"},
  "mark":{"type":"text","font":"Liberation Sans","fontWeight":"bold","fontSize":62,"align":"center","baseline":"alphabetic","color":"black"},
  "encoding":{
   "x":{"field":"w","type":"quantitative","scale":{"domain":[3500,8100],"nice":false,"zero":false},"axis":null},
   "y":{"field":"y","type":"quantitative","scale":{"domain":[-0.1,1.1],"nice":false,"zero":false},"axis":null},
   "text":{"field":"t"}}
 },
 {
  "data":{"name":"ring"},
  "mark":{"type":"point","shape":"M0,-1C0.2902,-1 0.5255,-0.5523 0.5255,0C0.5255,0.5523 0.2902,1 0,1C-0.2902,1 -0.5255,0.5523 -0.5255,0C-0.5255,-0.5523 -0.2902,-1 0,-1Z","size":124468,"filled":false,"stroke":"#ff2400","strokeWidth":18,"opacity":1},
  "encoding":{
   "x":{"field":"w","type":"quantitative","scale":{"domain":[3500,8100],"nice":false,"zero":false},"axis":null},
   "y":{"field":"y","type":"quantitative","scale":{"domain":[-0.1,1.1],"nice":false,"zero":false},"axis":null}}
 }
],
"resolve":{"scale":{"y":"independent"},"axis":{"x":"independent","y":"independent"}}
}
